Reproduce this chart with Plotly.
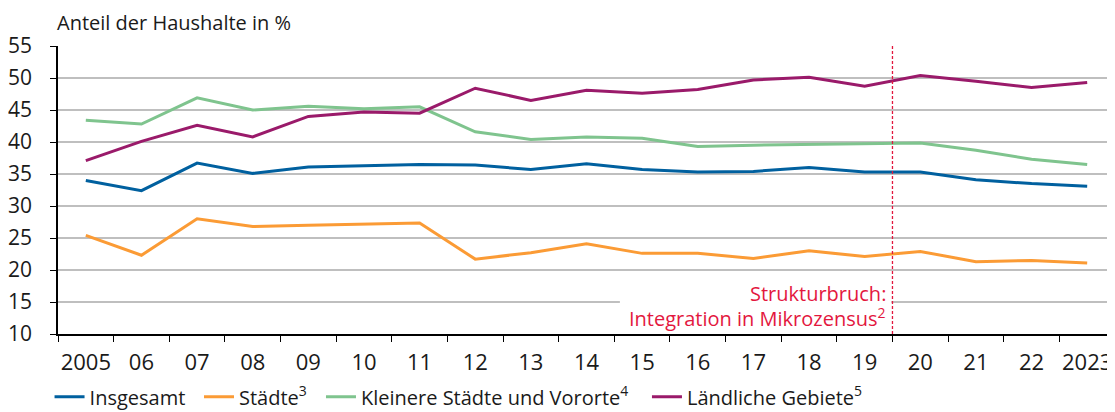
import plotly.graph_objects as go

years = ["2005", "06", "07", "08", "09", "10", "11", "12", "13", "14", "15",
         "16", "17", "18", "19", "20", "21", "22", "2023"]

insgesamt = [34.0, 32.4, 36.7, 35.1, 36.1, 36.3, 36.5, 36.4, 35.7, 36.6, 35.7,
             35.3, 35.4, 36.0, 35.3, 35.3, 34.1, 33.5, 33.1]
staedte = [25.4, 22.3, 28.0, 26.8, 27.0, 27.2, 27.35, 21.7, 22.7, 24.1, 22.6,
           22.6, 21.8, 23.0, 22.1, 22.9, 21.3, 21.5, 21.1]
kleinere = [43.4, 42.8, 46.9, 45.0, 45.6, 45.2, 45.5, 41.6, 40.4, 40.8, 40.6,
            39.3, 39.5, 39.6, 39.75, 39.85, 38.7, 37.3, 36.5]
laendlich = [37.1, 40.1, 42.6, 40.8, 44.0, 44.7, 44.5, 48.4, 46.5, 48.1, 47.6,
             48.2, 49.7, 50.1, 48.7, 50.4, 49.5, 48.5, 49.3]

series = [
    ("Insgesamt", insgesamt, "#00609f"),
    ("Städte<sup>3</sup>", staedte, "#fb9b35"),
    ("Kleinere Städte und Vororte<sup>4</sup>", kleinere, "#7fc48e"),
    ("Ländliche Gebiete<sup>5</sup>", laendlich, "#9a1a6a"),
]
legend_x = [-0.008, 0.1334, 0.2488, 0.5572]

FONT = "Open Sans"
BREAK_X = 14.5
RED = "#e3173e"

fig = go.Figure()
legend_layout = {}
for i, (name, vals, col) in enumerate(series):
    lg = "legend" if i == 0 else f"legend{i + 1}"
    fig.add_trace(go.Scatter(x=years, y=vals, name=name, mode="lines",
                             line=dict(color=col, width=3), legend=lg))
    legend_layout[lg] = dict(orientation="h", x=legend_x[i], xanchor="left",
                             y=-0.218, yanchor="middle",
                             font=dict(family=FONT, size=20, color="#1a1a1a"),
                             bgcolor="rgba(0,0,0,0)", itemwidth=30)

# white box behind the note (covers the grid line)
fig.add_shape(type="rect", xref="x", yref="y", x0=9.6, x1=BREAK_X - 0.02, y0=10.15, y1=18.2,
              fillcolor="white", line=dict(width=0), layer="between")
fig.add_shape(type="line", xref="x", yref="paper", x0=BREAK_X, x1=BREAK_X, y0=0, y1=1,
              line=dict(color=RED, width=1.3, dash="3px,2px"), layer="above")

fig.add_annotation(x=BREAK_X, y=16.3, xref="x", yref="y", xanchor="right", yanchor="middle",
                   text="Strukturbruch:", showarrow=False,
                   font=dict(family=FONT, size=20, color=RED), xshift=-4)
fig.add_annotation(x=BREAK_X, y=12.6, xref="x", yref="y", xanchor="right", yanchor="middle",
                   text="Integration in Mikrozensus<sup>2</sup>", showarrow=False,
                   font=dict(family=FONT, size=20, color=RED), xshift=-4)

fig.add_annotation(x=0, y=1, xref="paper", yref="paper", xanchor="left", yanchor="bottom",
                   text="Anteil der Haushalte in %", showarrow=False,
                   font=dict(family=FONT, size=20, color="#1a1a1a"), yshift=8, xshift=-3)

# page body adds an 8px offset; figure is sized so the plot sits where the reference has it
fig.update_layout(
    width=1107, height=404,
    margin=dict(l=50, r=0, t=38, b=78, autoexpand=False),
    paper_bgcolor="white", plot_bgcolor="white",
    font=dict(family=FONT, color="#1a1a1a", size=20),
    showlegend=True,
    **legend_layout,
)

fig.update_xaxes(type="category", range=[-0.5, 18.5], showgrid=False,
                 showline=True, linecolor="black", linewidth=1.5,
                 ticks="outside", tickson="boundaries", ticklen=6, tickcolor="black",
                 tickwidth=1.3, tickangle=0, automargin=False,
                 tickfont=dict(family=FONT, size=22, color="#1a1a1a"),
                 ticklabelstandoff=8, fixedrange=True)
fig.update_yaxes(range=[10, 55], dtick=5, tick0=10, showgrid=True,
                 gridcolor="#bfbfbf", gridwidth=1.5, automargin=False,
                 showline=True, linecolor="black", linewidth=1.5,
                 ticks="outside", ticklen=6, tickcolor="black", tickwidth=1.3,
                 tickfont=dict(family=FONT, size=21, color="#1a1a1a"),
                 ticklabelstandoff=14, zeroline=False, fixedrange=True)

fig.write_html("out.html")
